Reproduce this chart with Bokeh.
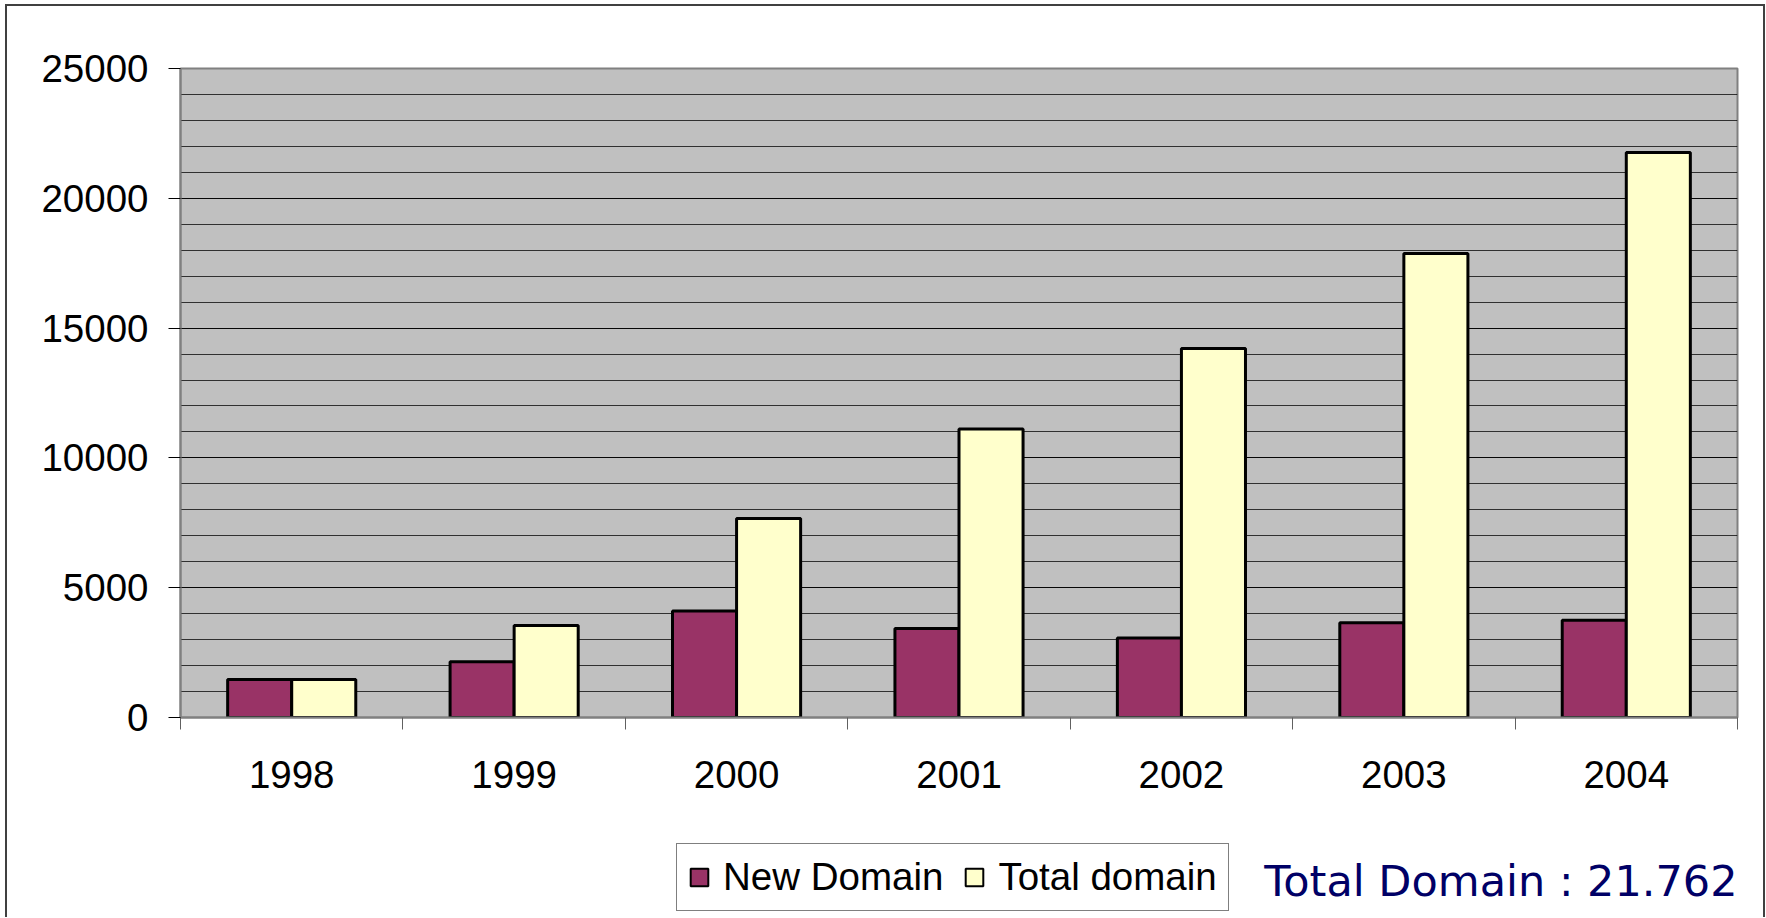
from bokeh.plotting import figure
from bokeh.layouts import column
from bokeh.models import Range1d, FixedTicker, Legend, LegendItem, Label, ColumnDataSource
from bokeh.transform import dodge
from bokeh.embed import file_html
from bokeh.resources import INLINE

years = ["1998", "1999", "2000", "2001", "2002", "2003", "2004"]
new_domain = [1464, 2150, 4100, 3430, 3060, 3650, 3750]
total_domain = [1464, 3544, 7665, 11117, 14214, 17874, 21762]
y_ticks = [0, 5000, 10000, 15000, 20000, 25000]
summary_text = "Total Domain : 21.762"

xpos = [i + 0.5 for i in range(len(years))]
src = ColumnDataSource(dict(x=xpos, new=new_domain, total=total_domain, year=years))

W = 1756
H1 = 801
H2 = 110
ML, MR, MT = 173, 26, 62
FW = W - ML - MR
FH = 649
MB = H1 - MT - FH

p = figure(width=W, height=H1, output_backend="svg", toolbar_location=None,
           x_range=Range1d(0, len(years)), y_range=Range1d(0, 25000),
           min_border_left=ML, min_border_right=MR, min_border_top=MT, min_border_bottom=MB,
           background_fill_color="#C0C0C0", border_fill_color="white")
p.outline_line_color = "#808080"
p.outline_line_width = 2

bw = 0.288
r1 = p.vbar(x=dodge("x", -0.144, range=p.x_range), top="new", width=bw, source=src,
            fill_color="#993366", line_color="black", line_width=3)
r2 = p.vbar(x=dodge("x", 0.144, range=p.x_range), top="total", width=bw, source=src,
            fill_color="#FFFFCC", line_color="black", line_width=3)

# y axis
p.yaxis.ticker = FixedTicker(ticks=y_ticks, minor_ticks=list(range(0, 25001, 1000)))
p.yaxis.major_tick_out = 12
p.yaxis.major_tick_in = 0
p.yaxis.minor_tick_out = 0
p.yaxis.minor_tick_in = 0
p.yaxis.major_tick_line_color = "black"
p.yaxis.axis_line_color = "#808080"
p.yaxis.axis_line_width = 2
p.yaxis.major_label_text_font = "Liberation Sans"
p.yaxis.major_label_text_font_size = "38.5px"
p.yaxis.major_label_text_color = "black"
p.yaxis.major_label_standoff = 20

# x axis
p.xaxis.ticker = FixedTicker(ticks=xpos, minor_ticks=list(range(len(years) + 1)))
p.xaxis.major_label_overrides = {x: y for x, y in zip(xpos, years)}
p.xaxis.major_tick_out = 0
p.xaxis.major_tick_in = 0
p.xaxis.minor_tick_out = 12
p.xaxis.minor_tick_in = 0
p.xaxis.minor_tick_line_color = "#606060"
p.xaxis.axis_line_color = "#808080"
p.xaxis.axis_line_width = 2
p.xaxis.major_label_text_font = "Liberation Sans"
p.xaxis.major_label_text_font_size = "38.5px"
p.xaxis.major_label_text_color = "black"
p.xaxis.major_label_standoff = 31

# grid
p.xgrid.grid_line_color = None
p.ygrid.ticker = FixedTicker(ticks=y_ticks, minor_ticks=list(range(0, 25001, 1000)))
p.ygrid.grid_line_color = "black"
p.ygrid.grid_line_width = 1
p.ygrid.grid_line_alpha = 0.85
p.ygrid.minor_grid_line_color = "black"
p.ygrid.minor_grid_line_alpha = 0.75
p.ygrid.minor_grid_line_width = 1

# bottom strip: legend + summary text
p2 = figure(width=W, height=H2, output_backend="svg", toolbar_location=None,
            x_range=Range1d(0, FW), y_range=Range1d(0, H2),
            x_axis_type=None, y_axis_type=None,
            min_border_left=ML, min_border_right=MR, min_border_top=0, min_border_bottom=0,
            background_fill_color="white", border_fill_color="white")
p2.outline_line_color = None
p2.grid.grid_line_color = None
lr1 = p2.vbar(x="x", top="new", width=bw, source=src, fill_color="#993366",
              line_color="black", line_width=2, visible=False)
lr2 = p2.vbar(x="x", top="total", width=bw, source=src, fill_color="#FFFFCC",
              line_color="black", line_width=2, visible=False)

legend = Legend(items=[LegendItem(label="New Domain", renderers=[lr1]),
                       LegendItem(label="Total domain", renderers=[lr2])],
                orientation="horizontal", location=(496, 6),
                label_text_font="Liberation Sans", label_text_font_size="38.5px",
                label_text_color="black", glyph_width=22, glyph_height=22,
                label_standoff=13, spacing=20, padding=11, margin=0,
                border_line_color="black", border_line_width=1,
                background_fill_color="white", background_fill_alpha=1.0,
                click_policy="none")
p2.add_layout(legend, "center")

lab = Label(x=FW, y=37, text=summary_text,
            text_font="DejaVu Sans", text_font_size="43px", text_color="#000066",
            text_baseline="alphabetic", text_align="right")
p2.add_layout(lab)

layout = column(p, p2, spacing=0)
layout.styles = {"border-left": "2px solid #404040", "border-top": "2px solid #404040",
                 "border-right": "2px solid #404040", "margin-left": "5px", "margin-top": "4px"}

open("out.html", "w").write(file_html(layout, INLINE))
